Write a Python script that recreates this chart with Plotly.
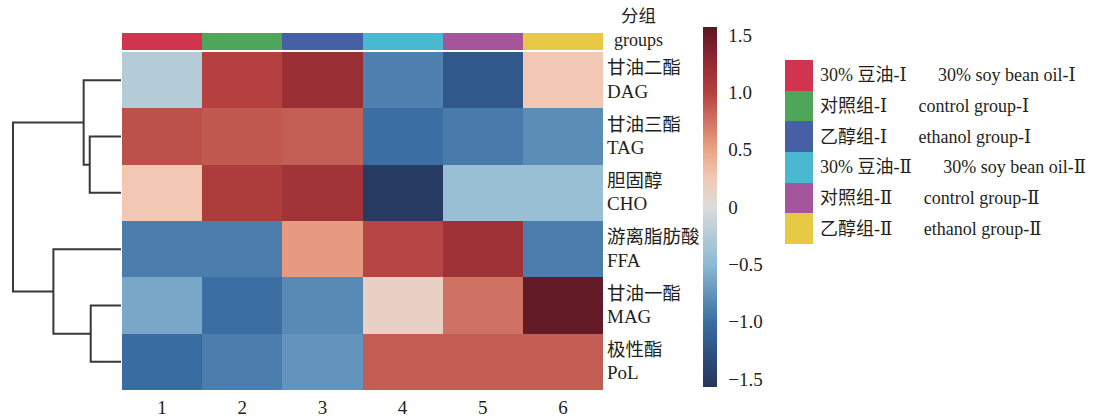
import plotly.graph_objects as go

W, H = 1093, 419

# ---------------- data ----------------
col_labels = ["1", "2", "3", "4", "5", "6"]
row_cn = ["甘油二酯", "甘油三酯", "胆固醇", "游离脂肪酸", "甘油一酯", "极性酯"]
row_en = ["DAG", "TAG", "CHO", "FFA", "MAG", "PoL"]

dag = [-0.25, 1.00, 1.20, -0.88, -1.20, 0.25]
tag = [0.92, 0.88, 0.85, -1.00, -0.92, -0.80]
cho = [0.25, 1.05, 1.15, -1.50, -0.42, -0.42]
ffa = [-0.90, -0.90, 0.55, 0.98, 1.17, -0.90]
mag = [-0.62, -1.00, -0.82, 0.15, 0.75, 1.52]
pol = [-1.02, -0.90, -0.75, 0.86, 0.86, 0.86]

# dendrogram linkage (scipy style: leaves 0-5, new nodes 6..)
merge_a = [1, 0, 4, 3, 7]
merge_b = [2, 6, 5, 8, 9]
merge_h = [31, 37, 30, 67, 107]

group_cn = ["30% 豆油-Ⅰ", "对照组-Ⅰ", "乙醇组-Ⅰ", "30% 豆油-Ⅱ", "对照组-Ⅱ", "乙醇组-Ⅱ"]
group_en = ["30% soy bean oil-Ⅰ", "control group-Ⅰ", "ethanol group-Ⅰ",
            "30% soy bean oil-Ⅱ", "control group-Ⅱ", "ethanol group-Ⅱ"]
group_colors = ["#d0344f", "#4fa65a", "#4560a5", "#4ab9cf", "#a4559c", "#e8c945"]

cbar_ticks = [1.5, 1.0, 0.5, 0, -0.5, -1.0, -1.5]
cbar_text = ["1.5", "1.0", "0.5", "0", "−0.5", "−1.0", "−1.5"]

# ---------------- styles ----------------
FONT = "Liberation Serif, 'Noto Sans CJK SC', serif"
LEG_FONT = "Liberation Serif, 'DejaVu Serif', 'Noto Sans CJK SC', serif"
TXT = "#231f20"
FS = 19

colorscale = [
    [0.00, "#26355a"],
    [0.10, "#2f5283"],
    [0.18, "#3a6ea3"],
    [0.34, "#8cb9d3"],
    [0.50, "#dcdcdc"],
    [0.58, "#f2c8b4"],
    [0.66, "#eba386"],
    [0.82, "#b3403f"],
    [0.92, "#8c2530"],
    [1.00, "#581824"],
]

def px_x(p):
    return p / W

def px_y(p):
    return 1 - p / H

z = [dag, tag, cho, ffa, mag, pol]
rows = list(range(len(row_en)))
cols = list(range(len(col_labels)))

fig = go.Figure()

# main heatmap
fig.add_trace(go.Heatmap(
    z=z, x=cols, y=rows, zmin=-1.57, zmax=1.57, colorscale=colorscale,
    xaxis="x", yaxis="y", hoverinfo="skip",
    colorbar=dict(
        x=px_x(703), xanchor="left", xpad=0, ypad=0,
        y=px_y(207), yanchor="middle", len=360, lenmode="pixels",
        thickness=14, outlinewidth=0, tickvals=cbar_ticks, ticktext=cbar_text,
        ticks="outside", ticklen=8, tickcolor="rgba(0,0,0,0)",
        tickfont=dict(family=FONT, size=FS, color=TXT),
    ),
))

# group bar
n = len(group_colors)
disc = []
for i, c in enumerate(group_colors):
    disc.append([i / n, c])
    disc.append([(i + 1) / n, c])
fig.add_trace(go.Heatmap(
    z=[list(range(n))], x=cols, y=[0], zmin=-0.5, zmax=n - 0.5,
    colorscale=disc, showscale=False, xaxis="x", yaxis="y2", hoverinfo="skip",
))

# legend swatches
fig.add_trace(go.Heatmap(
    z=[[i] for i in range(n)], x=[0], y=list(range(n)), zmin=-0.5, zmax=n - 0.5,
    colorscale=disc, showscale=False, xaxis="x3", yaxis="y3", hoverinfo="skip",
))

# dendrogram
pos = {i: float(i) for i in rows}
hgt = {i: 0.0 for i in rows}
dx, dy = [], []
for k, (a, b, h) in enumerate(zip(merge_a, merge_b, merge_h)):
    node = len(rows) + k
    dx += [hgt[a], h, h, hgt[b], None]
    dy += [pos[a], pos[a], pos[b], pos[b], None]
    pos[node] = (pos[a] + pos[b]) / 2
    hgt[node] = h
fig.add_trace(go.Scatter(
    x=dx, y=dy, mode="lines", line=dict(color="#383838", width=2),
    xaxis="x2", yaxis="y", hoverinfo="skip", showlegend=False,
))

# row labels
ann = []
for i in rows:
    ann.append(dict(x=px_x(605), xref="paper", y=i, yref="y", yshift=12,
                    text=row_cn[i], showarrow=False, xanchor="left", yanchor="middle",
                    font=dict(family=FONT, size=18.5, color=TXT)))
    ann.append(dict(x=px_x(605), xref="paper", y=i, yref="y", yshift=-11,
                    text=row_en[i], showarrow=False, xanchor="left", yanchor="middle",
                    font=dict(family=FONT, size=FS, color=TXT)))
ann.append(dict(x=px_x(638), y=px_y(16), xref="paper", yref="paper", text="分组",
                showarrow=False, xanchor="center", yanchor="middle",
                font=dict(family=FONT, size=17.5, color=TXT)))
ann.append(dict(x=px_x(638), y=px_y(40), xref="paper", yref="paper", text="groups",
                showarrow=False, xanchor="center", yanchor="middle",
                font=dict(family=FONT, size=18, color=TXT)))
for i in range(n):
    ann.append(dict(x=px_x(818), xref="paper", y=i, yref="y3",
                    text=group_cn[i] + "\u2003\u2002\u2005" + group_en[i],
                    showarrow=False, xanchor="left", yanchor="middle",
                    font=dict(family=LEG_FONT, size=18, color=TXT)))

fig.update_layout(
    width=W, height=H, margin=dict(l=0, r=0, t=0, b=0),
    paper_bgcolor="white", plot_bgcolor="white", showlegend=False,
    annotations=ann,
    xaxis=dict(domain=[px_x(122), px_x(603)], range=[-0.5, 5.5], tickvals=cols,
               ticktext=col_labels, ticks="", showgrid=False, zeroline=False,
               showline=False, anchor="y", ticklabelstandoff=4,
               tickfont=dict(family=FONT, size=FS, color=TXT)),
    yaxis=dict(domain=[px_y(390), px_y(52)], range=[5.5, -0.5], showticklabels=False,
               ticks="", showgrid=False, zeroline=False, showline=False, anchor="x"),
    yaxis2=dict(domain=[px_y(50), px_y(33)], range=[-0.5, 0.5], showticklabels=False,
                ticks="", showgrid=False, zeroline=False, showline=False, anchor="x"),
    xaxis2=dict(domain=[0, px_x(121)], range=[119.9, 0], visible=False, anchor="y"),
    xaxis3=dict(domain=[px_x(785), px_x(813)], range=[-0.5, 0.5], visible=False, anchor="y3"),
    yaxis3=dict(domain=[px_y(244), px_y(60)], range=[5.5, -0.5], visible=False, anchor="x3"),
)

fig.write_html("out.html", config={"displayModeBar": False},
               post_script="document.body.style.margin='0';")
